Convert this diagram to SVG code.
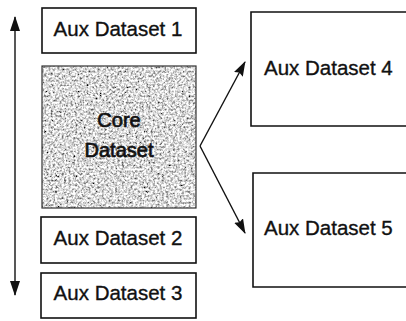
<svg xmlns="http://www.w3.org/2000/svg" width="406" height="321" viewBox="0 0 406 321">
<defs>
<style>
.box{fill:#fff;stroke:#111;stroke-width:1.6}
.open{fill:none;stroke:#111;stroke-width:1.6}
.lbl{font-family:"Liberation Sans",Arial,sans-serif;font-size:20.5px;fill:#111;stroke:#111;stroke-width:0.35;text-anchor:middle}
.lbl4{font-family:"Liberation Sans",Arial,sans-serif;font-size:20.5px;fill:#111;stroke:#111;stroke-width:0.35}
.core{font-family:"Liberation Sans",Arial,sans-serif;font-size:20px;fill:#111;stroke:#111;stroke-width:0.7;text-anchor:middle}
.conn{stroke:#111;stroke-width:1.4;fill:none}
</style>
<marker id="ah" markerWidth="15" markerHeight="10" refX="14" refY="5" orient="auto" markerUnits="userSpaceOnUse">
<path d="M0,0 L15,5 L0,10 L2,5 Z" fill="#111"/>
</marker>
<marker id="ahb" markerWidth="15" markerHeight="10" refX="14" refY="5" orient="auto" markerUnits="userSpaceOnUse">
<path d="M0,0 L15,5 L0,10 Z" fill="#111"/>
</marker>
<filter id="grain" x="0" y="0" width="100%" height="100%">
<feTurbulence type="fractalNoise" baseFrequency="0.45" numOctaves="4" seed="5" result="n"/>
<feColorMatrix in="n" type="matrix" values="2.0 0 0 0 -0.3  2.0 0 0 0 -0.3  2.0 0 0 0 -0.3  0 0 0 0 1"/>
</filter>
</defs>
<g id="aux1"><rect class="box" x="42" y="8" width="154" height="45"/><text class="lbl" x="118" y="36">Aux Dataset 1</text></g>
<g id="core"><rect x="42" y="66" width="154" height="142" fill="#aaa" filter="url(#grain)"/><rect x="42" y="66" width="154" height="142" fill="none" stroke="#333" stroke-width="1.2"/><text class="core" x="119" y="127">Core</text><text class="core" x="119" y="157">Dataset</text></g>
<g id="aux2"><rect class="box" x="41" y="217" width="155" height="46"/><text class="lbl" x="118" y="245">Aux Dataset 2</text></g>
<g id="aux3"><rect class="box" x="41" y="273" width="155" height="45"/><text class="lbl" x="118" y="300">Aux Dataset 3</text></g>
<g id="aux4"><path class="open" d="M406,12 H251 V126 H406"/><text class="lbl4" x="264" y="75">Aux Dataset 4</text></g>
<g id="aux5"><path class="open" d="M406,173 H253 V287 H406"/><text class="lbl4" x="264" y="235">Aux Dataset 5</text></g>
<g id="connectors">
<line class="conn" x1="15" y1="150" x2="15" y2="17" marker-end="url(#ahb)"/>
<line class="conn" x1="15" y1="150" x2="15" y2="295" marker-end="url(#ahb)"/>
<line class="conn" x1="200" y1="146" x2="245" y2="62" marker-end="url(#ah)"/>
<line class="conn" x1="200" y1="146" x2="245" y2="233" marker-end="url(#ah)"/>
</g>
</svg>
